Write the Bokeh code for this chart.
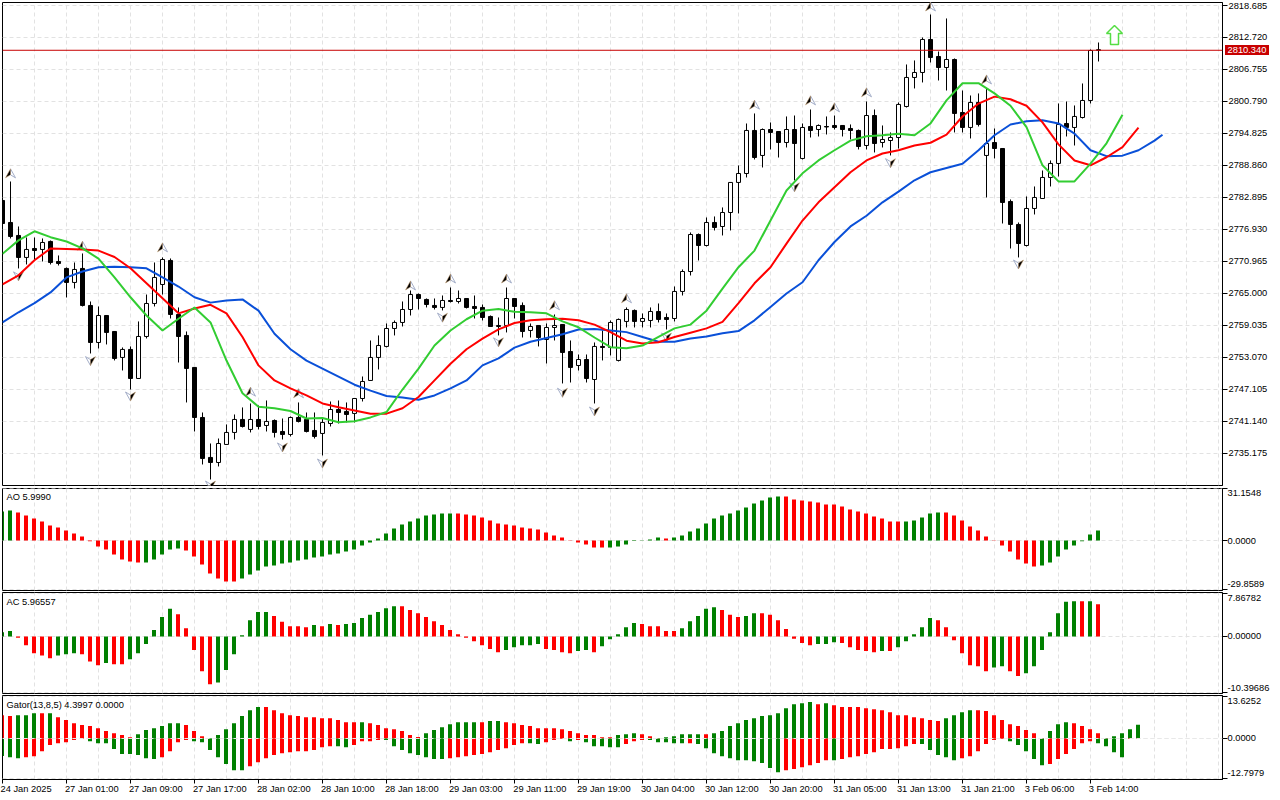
from bokeh.plotting import figure
from bokeh.layouts import column
from bokeh.models import FixedTicker, Grid, LinearAxis, Range1d, Span, PrintfTickFormatter, Label, Div
from bokeh.embed import file_html
from bokeh.resources import INLINE

# ---------- price data (bar index = position in list) ----------
opens = [2782.34,2778.24,2775.82,2771.72,2773.39,2773.21,2774.70,2770.97,2769.67,2767.06,
2769.67,2762.77,2755.87,2760.90,2757.92,2753.08,2754.57,2749.16,2756.99,2763.14,
2766.68,2771.16,2761.09,2757.18,2751.22,2741.89,2734.44,2733.50,2736.86,2739.10,
2741.52,2739.66,2741.52,2740.40,2741.33,2739.28,2738.72,2741.89,2741.52,2739.47,
2738.91,2740.77,2743.38,2743.01,2742.64,2745.43,2748.79,2753.08,2755.13,2758.48,
2759.60,2762.02,2764.81,2763.89,2762.77,2762.40,2763.70,2763.51,2764.07,2762.58,
2762.40,2760.72,2758.85,2759.04,2764.07,2762.77,2758.11,2759.04,2756.43,2758.67,
2759.23,2754.19,2751.58,2752.70,2748.97,2755.13,2754.94,2752.52,2759.79,2761.84,
2759.79,2759.97,2761.65,2760.53,2760.34,2765.38,2769.10,2776.00,2773.95,2778.24,
2777.49,2780.10,2785.70,2787.37,2795.39,2790.73,2795.57,2795.20,2793.15,2795.57,
2790.17,2796.13,2795.57,2796.13,2796.32,2796.32,2795.76,2795.39,2792.59,2798.18,
2793.15,2793.52,2794.08,2799.86,2805.27,2806.20,2812.35,2809.18,2807.13,2808.62,
2798.74,2795.95,2800.61,2790.73,2793.15,2792.03,2782.15,2777.87,2773.95,2780.85,
2782.71,2786.63,2789.24,2796.69,2795.95,2797.81,2800.98,2810.43]
highs = [2782.70,2785.88,2777.49,2775.44,2775.44,2775.26,2774.88,2772.09,2769.85,2770.78,
2772.46,2763.51,2762.58,2760.90,2757.92,2754.94,2755.13,2759.79,2764.81,2770.78,
2771.72,2771.53,2762.40,2757.92,2751.22,2742.82,2737.04,2737.97,2740.59,2742.45,
2743.76,2744.50,2744.13,2745.06,2741.52,2741.70,2742.08,2744.69,2742.82,2742.82,
2741.89,2744.87,2745.06,2744.69,2745.43,2749.53,2756.24,2757.18,2759.41,2759.97,
2763.51,2765.56,2765.00,2764.07,2764.07,2764.63,2766.12,2765.56,2764.07,2764.63,
2762.95,2760.90,2760.53,2766.12,2764.07,2763.33,2759.41,2759.04,2759.41,2761.09,
2759.23,2756.24,2753.63,2753.63,2755.87,2758.11,2759.97,2760.34,2762.40,2762.02,
2761.28,2762.40,2763.14,2761.28,2766.31,2769.48,2776.38,2776.19,2779.17,2779.36,
2781.04,2785.70,2788.86,2796.69,2798.56,2795.76,2796.88,2795.20,2798.00,2798.18,
2796.69,2799.30,2796.51,2798.00,2798.18,2796.32,2796.51,2795.57,2800.79,2799.30,
2796.32,2795.02,2800.61,2807.69,2808.44,2812.72,2817.01,2810.11,2816.27,2808.81,
2802.84,2801.91,2802.29,2803.22,2795.76,2792.03,2782.53,2778.24,2783.09,2784.95,
2787.93,2789.80,2800.42,2800.79,2800.05,2804.15,2810.49,2811.79]
lows = [2777.68,2775.26,2769.67,2770.41,2771.16,2770.97,2770.41,2770.22,2764.26,2765.94,
2762.58,2753.82,2754.75,2755.50,2752.52,2750.65,2747.11,2749.16,2756.62,2762.58,
2764.81,2760.34,2752.14,2744.69,2739.28,2733.13,2730.33,2732.76,2736.86,2737.79,
2740.02,2739.10,2739.66,2739.28,2738.16,2737.79,2738.35,2740.96,2739.10,2737.97,
2734.81,2740.21,2740.77,2740.96,2740.96,2744.87,2748.79,2750.84,2754.94,2757.18,
2758.85,2760.90,2762.02,2762.40,2762.02,2761.84,2763.33,2763.14,2762.21,2760.34,
2759.97,2758.85,2757.18,2757.74,2760.34,2756.80,2756.80,2755.13,2751.96,2756.24,
2748.23,2748.41,2750.65,2748.41,2744.50,2752.52,2753.45,2752.33,2758.67,2758.67,
2758.67,2758.67,2759.60,2758.29,2759.79,2764.63,2768.36,2771.16,2773.77,2776.75,
2775.82,2776.75,2779.92,2786.63,2789.98,2788.49,2791.85,2790.35,2792.22,2786.07,
2789.98,2794.08,2794.27,2794.64,2795.57,2794.27,2793.71,2791.85,2791.85,2791.29,
2792.22,2790.73,2792.03,2799.67,2803.22,2804.34,2808.06,2804.71,2802.84,2795.02,
2795.02,2793.90,2796.13,2782.90,2790.17,2778.05,2773.39,2771.72,2773.77,2779.73,
2782.71,2784.95,2786.81,2794.27,2792.59,2797.62,2800.42,2808.25]
closes = [2778.05,2775.63,2771.72,2773.21,2773.02,2774.51,2770.78,2770.60,2767.06,2769.48,
2762.77,2755.87,2760.90,2757.74,2752.89,2754.57,2749.16,2756.99,2763.14,2767.99,
2771.34,2761.09,2756.99,2751.03,2741.89,2734.25,2733.50,2737.04,2739.10,2741.52,
2740.21,2741.52,2740.21,2741.15,2739.10,2738.72,2741.89,2741.15,2739.28,2738.35,
2740.96,2743.38,2742.82,2742.45,2745.43,2748.60,2753.08,2755.31,2758.48,2759.60,
2762.02,2764.81,2764.07,2762.95,2762.40,2763.70,2763.51,2764.07,2762.40,2762.21,
2760.53,2758.85,2759.04,2764.07,2762.58,2757.92,2758.85,2756.80,2758.67,2759.04,
2754.01,2751.22,2752.70,2749.16,2755.13,2754.94,2759.60,2760.16,2762.02,2759.79,
2760.34,2761.65,2760.16,2760.16,2765.38,2769.10,2776.00,2773.95,2778.24,2777.31,
2780.10,2785.70,2787.37,2795.39,2790.35,2795.57,2795.02,2793.15,2795.57,2792.96,
2795.95,2795.39,2796.32,2796.04,2795.95,2795.57,2795.39,2792.40,2798.18,2792.96,
2793.71,2794.08,2800.24,2805.27,2806.20,2812.35,2809.00,2807.13,2808.62,2798.56,
2795.95,2800.61,2796.51,2792.96,2792.03,2781.97,2777.87,2774.32,2780.85,2782.90,
2786.63,2789.24,2796.51,2795.95,2798.00,2800.98,2810.30,2810.34]

# Alligator lines, read every second bar
jaw_bars = [0,2,4,6,8,10,12,14,16,18,20,22,24,26,28,30,32,34,36,38,40,42,44,46,48,50,52,54,56,58,60,62,64,66,68,70,72,74,76,78,80,82,84,86,88,90,92,94,96,98,100,102,104,106,108,110,112,114,116,118,120,122,124,126,128,130,132,134,136,138,140,142,144,145]
jaw = [2759.6,2761.5,2763.2,2765.2,2768.0,2769.1,2769.9,2770.0,2769.9,2769.7,2768.0,2766.3,2764.3,2763.3,2763.7,2763.9,2761.8,2757.5,2754.6,2752.5,2751.0,2749.5,2748.0,2746.9,2745.9,2745.6,2745.2,2746.0,2747.3,2748.8,2751.6,2752.9,2754.9,2756.0,2756.7,2757.4,2758.3,2758.4,2758.1,2757.8,2756.9,2756.0,2756.0,2756.6,2757.0,2757.6,2758.0,2760.0,2762.5,2765.0,2767.1,2771.2,2774.6,2777.5,2779.5,2782.0,2784.0,2786.1,2787.6,2788.4,2789.2,2791.7,2794.5,2796.5,2797.1,2797.3,2796.7,2794.8,2791.7,2790.6,2790.7,2791.7,2793.5,2794.6]
teeth_bars = [0,2,4,6,8,10,12,14,16,18,20,22,24,26,28,30,32,34,36,38,40,42,44,46,48,50,52,54,56,58,60,62,64,66,68,70,72,74,76,78,80,82,84,86,88,90,92,94,96,98,100,102,104,106,108,110,112,114,116,118,120,122,124,126,128,130,132,134,136,138,140,142]
teeth = [2766.7,2768.4,2771.2,2773.4,2773.3,2773.2,2773.0,2771.8,2769.7,2766.9,2764.1,2761.3,2762.2,2762.9,2761.3,2756.9,2751.6,2748.8,2747.3,2746.0,2744.5,2743.8,2743.2,2742.6,2742.6,2743.6,2745.7,2748.8,2751.9,2754.6,2756.6,2758.3,2759.5,2760.0,2760.2,2760.3,2760.0,2759.2,2757.8,2756.2,2755.7,2755.9,2756.9,2757.7,2758.5,2759.7,2763.2,2766.9,2769.9,2774.3,2778.6,2782.0,2784.8,2787.6,2789.8,2791.1,2791.7,2792.6,2793.1,2794.6,2798.0,2800.4,2801.7,2801.2,2800.0,2796.9,2792.8,2789.8,2788.9,2790.4,2792.3,2795.9]
lips_bars = [0,2,4,6,8,10,12,14,16,18,20,22,24,26,28,30,32,34,36,38,40,42,44,46,48,50,52,54,56,58,60,62,64,66,68,70,72,74,76,78,80,82,84,86,88,90,92,94,96,98,100,102,104,106,108,110,112,114,116,118,120,122,124,126,128,130,132,134,136,138,140]
lips = [2772.4,2774.9,2776.6,2775.5,2774.7,2773.4,2771.5,2768.0,2764.3,2760.9,2758.1,2760.3,2762.4,2759.6,2752.5,2746.4,2743.9,2743.6,2743.1,2741.7,2741.8,2741.0,2741.2,2741.9,2742.9,2747.1,2751.0,2755.3,2758.1,2760.2,2761.8,2762.1,2761.6,2761.5,2761.3,2759.8,2758.7,2756.8,2755.0,2754.8,2755.3,2756.9,2758.5,2759.2,2761.8,2765.9,2769.9,2773.0,2778.6,2784.2,2787.4,2789.8,2791.7,2793.5,2794.3,2794.5,2794.8,2794.5,2796.7,2801.0,2804.2,2804.2,2802.3,2800.0,2796.0,2788.9,2785.9,2785.9,2789.2,2793.0,2798.3]

# Fractal markers
up_bars = [1,10,20,31,37,51,56,63,69,78,94,101,104,108,116,123]
up_prices = [2787.4,2773.9,2773.6,2746.7,2746.4,2766.5,2767.8,2767.8,2762.8,2764.1,2800.2,2801.0,2799.7,2802.5,2818.5,2804.9]
down_bars = [2,11,16,26,35,40,55,62,70,74,83,99,111,127]
down_prices = [2768.2,2752.4,2745.8,2729.2,2736.3,2733.3,2760.5,2755.9,2746.5,2743.0,2756.8,2784.8,2789.3,2770.4]
signal_bar = 139
signal_tip = 2814.96
signal_base = 2811.42
last_price = 2810.34
price_ticks = [2818.685,2812.720,2806.755,2800.790,2794.825,2788.860,2782.895,2776.930,2770.965,2765.000,2759.035,2753.070,2747.105,2741.140,2735.175]

# ---------- indicators ----------
ao = [17.5,18.1,16.9,15.1,13.3,11.5,9.05,7.85,6.04,4.2,2.4,-0.4,-3.6,-5.4,-8.5,-11.5,-12.7,-13.3,-13.3,-11.5,
-8.5,-5.4,-4.8,-6.0,-9.7,-14.5,-19.9,-22.9,-24.7,-24.7,-22.9,-20.5,-18.1,-15.7,-15.1,-13.9,-13.3,-12.1,-11.5,-10.3,
-9.7,-8.5,-7.8,-6.6,-5.4,-3.0,-1.2,1.2,4.2,7.2,9.7,11.5,13.3,15.1,15.7,16.3,16.3,16.3,15.7,15.1,
13.9,12.1,10.3,9.7,9.05,7.85,7.2,6.6,4.8,3.0,1.8,0.2,-1.2,-2.4,-4.2,-4.2,-4.2,-3.6,-2.4,-0.3,
-0.2,0.6,1.8,1.2,1.8,3.0,5.4,7.2,10.3,13.3,15.1,16.3,18.1,19.9,22.3,24.1,26.0,26.6,26.6,24.7,
24.1,23.5,22.9,21.7,21.7,20.5,18.7,17.5,16.3,14.5,13.3,11.5,11.5,11.5,12.1,13.9,16.3,16.9,16.9,15.1,
12.1,8.5,6.0,2.4,-0.2,-3.0,-6.6,-11.5,-13.9,-15.7,-15.1,-13.3,-9.7,-5.4,-3.0,-0.4,3.6,6.0]
ao_colors = ("GGRRRRRRRR" "RRRRRRRRGG" "GGGRRRRRRR" "GGGGGGGGGG" "GGGGGGGGGG" "GGGGGGGRRR"
             "RRRRRRRRRR" "RRRRRRGGGG" "GGGRGGGGGG" "GGGGGGGGRR" "RRRRRRRRRR" "RRRGGGGGRR"
             "RRRRRRRRRR" "GGGGGGGG")
ac = [0.8,1.0,-0.25,-1.6,-3.1,-3.5,-4.0,-3.5,-3.3,-3.1,-3.3,-4.6,-5.3,-4.9,-5.1,-5.1,-4.2,-3.1,-1.4,1.2,
3.6,5.1,4.1,1.5,-2.5,-6.4,-8.8,-8.5,-6.2,-3.3,0.25,3.0,4.5,4.5,3.8,2.7,1.9,1.9,1.7,2.1,
1.9,2.3,2.1,2.3,2.5,3.4,4.0,4.5,5.2,5.6,5.6,4.9,4.3,3.6,2.8,2.1,1.2,0.4,-0.25,-0.9,
-1.6,-2.3,-2.9,-2.5,-2.0,-1.6,-1.6,-1.4,-2.3,-2.5,-2.9,-3.1,-2.7,-2.5,-2.9,-1.8,-0.5,0.4,1.7,2.5,
2.3,1.9,1.9,1.0,1.0,1.5,2.8,3.8,5.1,5.4,4.9,4.0,3.6,3.8,4.3,4.3,4.0,3.0,1.4,-0.4,
-1.2,-1.6,-1.4,-1.4,-1.05,-1.2,-2.0,-2.5,-2.7,-2.9,-2.7,-2.7,-2.0,-0.9,0.4,1.7,3.4,3.0,1.7,-0.7,
-3.1,-5.3,-5.5,-6.4,-5.7,-5.5,-6.4,-7.3,-6.8,-5.5,-2.5,0.8,4.3,6.4,6.5,6.5,6.5,5.97]
ac_colors = ("GGRRRRRGGG" "RRRGRRGGGG" "GGRRRRRGGG" "GGGGRRRRRG" "RGRGGGGGGG" "RRRRRRRRRR"
             "RRRGGGGGRR" "RRGGRGGGGG" "RRRRRGGGGG" "RRRGGRRRRR" "RRGGGRRRRR" "GRGGGGGRRR"
             "RRRRGGRRGG" "GGGGGRGR")
gator_up = [7.5,7.2,7.5,7.5,8.1,8.1,8.1,6.8,5.9,4.9,4.3,4.0,3.3,2.4,1.7,1.1,0.4,1.4,2.7,3.3,
4.0,4.9,4.9,4.3,2.4,0.7,0.1,1.1,3.0,4.9,7.2,9.1,10.1,10.1,9.1,8.1,7.5,7.2,6.8,6.8,
6.5,6.5,5.9,5.2,5.2,5.2,4.9,4.3,3.3,3.0,2.4,1.1,0.5,1.7,2.7,3.6,4.6,5.2,5.2,5.2,
5.2,5.6,5.6,5.2,4.9,4.3,4.0,3.3,3.3,3.3,3.0,2.4,1.7,1.1,1.1,0.4,0.4,1.1,1.4,1.7,
1.4,0.7,0.1,0.4,0.7,1.4,1.4,1.4,1.4,1.7,2.4,4.0,4.9,5.9,6.5,7.2,7.5,8.1,9.7,11.0,
11.3,11.7,11.0,11.3,10.7,10.1,10.1,10.1,9.7,9.4,9.1,8.4,7.5,7.5,6.8,6.5,5.9,5.6,6.5,7.5,
8.4,9.1,9.1,8.8,7.5,5.9,4.6,4.0,2.7,1.7,0.1,2.4,4.6,5.2,4.9,4.0,3.0,1.7,0.1,0.7,
1.7,3.0,4.4]
gator_down = [-5.6,-6.0,-6.3,-6.0,-5.7,-4.1,-2.1,-1.5,-1.2,-0.5,-0.2,-0.9,-1.5,-1.5,-3.4,-5.0,-5.0,-5.3,-6.3,-6.6,
-6.0,-4.1,-1.2,-0.5,-0.9,-1.2,-3.7,-6.0,-8.2,-10.2,-10.2,-8.9,-7.6,-6.3,-5.3,-4.7,-4.4,-4.1,-4.1,-3.7,
-2.8,-2.5,-2.5,-2.8,-2.1,-0.9,-0.9,-0.5,-0.5,-2.5,-3.7,-4.7,-5.3,-6.0,-6.6,-6.6,-6.3,-6.0,-5.7,-5.3,
-5.0,-4.4,-3.7,-3.1,-2.1,-1.5,-1.5,-1.8,-1.2,-0.5,-0.2,-0.9,-0.5,-1.2,-2.5,-2.5,-2.8,-2.8,-1.8,-0.9,
-0.5,-0.5,-1.2,-1.2,-1.5,-1.5,-1.5,-1.8,-3.1,-4.7,-5.7,-6.3,-7.0,-7.0,-7.3,-7.9,-9.5,-10.8,-10.2,-9.8,
-9.2,-8.6,-7.9,-7.0,-7.0,-6.6,-6.0,-5.7,-5.0,-4.4,-3.4,-3.4,-3.1,-2.5,-1.8,-1.8,-3.7,-5.3,-6.0,-7.0,
-6.3,-5.7,-4.1,-1.8,-0.5,-0.2,-0.9,-2.1,-4.1,-6.6,-8.6,-8.2,-6.6,-5.0,-3.4,-1.5,-0.9,-1.5,-2.5,-4.4,
-6.0,-0.2,-0.2]
gator_up_colors = ("RRGGGRGRRR" "RRRRRRRGGG" "GGGRRRGGGG" "GGGRRRRRRR" "RRRRRGRRRR" "RRRGGGGGGG"
                   "RGGRRRRRRR" "RRRRRRRGGG" "RRRGGGGGRG" "GGGGGGGGGG" "GGRGRRRRRR" "RRRRRRRRGG"
                   "GGRRRRRRRR" "RGGGRRRRRG" "GGG")
gator_down_colors = ("GGGRRRRRRR" "RGGGGGGGGG" "RRRRGGGGGG" "GRRRRRRRRR" "RRGGRRRRGG" "GGGGGGRRRR"
                     "RRRRRRGGRR" "RGRGGGGGRR" "RGGGGGRGGG" "GGGGGGGGRR" "RRRRGRRRRR" "RRRRRGGGGG"
                     "RRRRRRGGGG" "GRRRRRRGGG" "GRR")
x_label_bars = [0,8,16,24,32,40,48,56,64,72,80,88,96,104,112,120,128,136]
x_labels = ["24 Jan 2025","27 Jan 01:00","27 Jan 09:00","27 Jan 17:00","28 Jan 02:00","28 Jan 10:00",
            "28 Jan 18:00","29 Jan 03:00","29 Jan 11:00","29 Jan 19:00","30 Jan 04:00","30 Jan 12:00",
            "30 Jan 20:00","31 Jan 05:00","31 Jan 13:00","31 Jan 21:00","3 Feb 06:00","3 Feb 14:00"]

# ---------- styling ----------
FONT = "Liberation Sans"
FS = "9.3px"
GRID = "#e2e2e2"
RED, GREEN = "#ff0000", "#008000"
X0, X1 = 0.0, 152.5
PX_X, PX_Y = 1 / 8, 0.186406
grid_bars = list(range(0, 153, 4))
cmap = {"G": GREEN, "R": RED}


def panel(height, ystart, yend, top, bottom, yticks):
    p = figure(width=1280, height=height, output_backend="svg", toolbar_location=None,
               x_range=Range1d(X0, X1), y_range=Range1d(ystart, yend),
               x_axis_type=None, y_axis_type=None,
               min_border_left=2, min_border_right=58, min_border_top=top, min_border_bottom=bottom)
    p.outline_line_color = "black"
    p.outline_line_width = 1
    p.background_fill_color = "white"
    p.border_fill_color = "white"
    ax = LinearAxis(ticker=FixedTicker(ticks=yticks), major_tick_out=5, major_tick_in=0, minor_tick_line_color=None,
                    major_tick_line_color="black", axis_line_color="black",
                    major_label_text_font=FONT, major_label_text_font_size=FS, major_label_text_color="black",
                    major_label_standoff=1)
    p.add_layout(ax, "right")
    p.add_layout(Grid(dimension=0, ticker=FixedTicker(ticks=grid_bars), grid_line_color=GRID, grid_line_dash="4 3"))
    p.add_layout(Grid(dimension=1, ticker=FixedTicker(ticks=yticks), grid_line_color=GRID, grid_line_dash="4 3"))
    return p, ax


def side_labels(p, ax, ticks, texts, offsets, frame_h):
    ax.major_label_overrides = {t: "" for t in ticks}
    unit = (p.y_range.end - p.y_range.start) / frame_h
    pos = [t + o * unit for t, o in zip(ticks, offsets)]
    lab = LinearAxis(ticker=FixedTicker(ticks=pos), major_tick_out=0, major_tick_in=0, minor_tick_line_color=None,
                     major_tick_line_color=None, axis_line_color=None, major_label_standoff=0,
                     major_label_text_font=FONT, major_label_text_font_size=FS, major_label_text_color="black",
                     major_label_overrides=dict(zip(pos, texts)))
    p.add_layout(lab, "right")


def title(p, text, offset):
    p.add_layout(Label(x=X0, y=p.y_range.end, x_offset=4, y_offset=offset, text=text, text_font=FONT,
                       text_font_size=FS, text_baseline="middle", text_color="black"))


def hist_x(n):
    # histogram bars sit half a pixel left of the candle wicks
    return [i - 0.5 * PX_X for i in range(n)]


# ---------- main panel ----------
p1, ax1 = panel(487, 2729.21, 2819.244, 2, 2, price_ticks)
ax1.formatter = PrintfTickFormatter(format="%.3f")
bars = list(range(len(opens)))
p1.segment(bars, lows, bars, highs, color="black", line_width=1)
body_colors = ["black" if c < o else "white" for o, c in zip(opens, closes)]
p1.vbar(bars, 0.5, opens, closes, fill_color=body_colors, line_color="black", line_width=1)

up_l = [[b - 5 * PX_X, b, b] for b in up_bars]
up_l_y = [[v - 4.5 * PX_Y, v + 4.5 * PX_Y, v - 1.5 * PX_Y] for v in up_prices]
up_r = [[b + 5 * PX_X, b, b] for b in up_bars]
p1.patches(up_r, up_l_y, fill_color="white", line_color="#a4aec8", line_width=1)
p1.patches(up_l, up_l_y, fill_color="black", line_color="#c8a070", line_width=0.5)
dn_y = [[v + 4.5 * PX_Y, v - 4.5 * PX_Y, v + 1.5 * PX_Y] for v in down_prices]
dn_l = [[b - 5 * PX_X, b, b] for b in down_bars]
dn_r = [[b + 5 * PX_X, b, b] for b in down_bars]
p1.patches(dn_l, dn_y, fill_color="white", line_color="#a4aec8", line_width=1)
p1.patches(dn_r, dn_y, fill_color="black", line_color="#c8a070", line_width=0.5)

p1.line(jaw_bars, jaw, line_color="#0a50d8", line_width=2)
p1.line(teeth_bars, teeth, line_color="#ff0000", line_width=2)
p1.line(lips_bars, lips, line_color="#32cd32", line_width=2)
p1.add_layout(Span(location=last_price, dimension="width", line_color="#c80000", line_width=1))

head = signal_tip - 8 * PX_Y
p1.patch([signal_bar, signal_bar + 1, signal_bar + 0.5, signal_bar + 0.5, signal_bar - 0.5, signal_bar - 0.5, signal_bar - 1],
         [signal_tip, head, head, signal_base, signal_base, head, head],
         fill_color="white", line_color="#55dd44", line_width=1.5)

# price tag sitting on the scale
tag = Div(text=f"{last_price:.3f}", width=44, height=10,
          styles={"position": "absolute", "left": "1225px", "top": "45px", "z-index": "5",
                  "background": "#c80000", "color": "white", "font-family": FONT, "font-size": FS,
                  "line-height": "10px", "text-align": "center", "margin": "0", "padding": "0"})

# ---------- AO ----------
p2, ax2 = panel(104, -30.2, 31.41, 1, 1, [31.1548, 0.0, -29.8589])
p2.vbar(hist_x(len(ao)), 0.5, [0] * len(ao), ao, fill_color=[cmap[c] for c in ao_colors], line_color=None)
side_labels(p2, ax2, [31.1548, 0.0, -29.8589], ["31.1548", "0.0000", "-29.8589"], [-4, 0, 5.5], 102)
title(p2, "AO 5.9990", -8)

# ---------- AC ----------
p3, ax3 = panel(103, -10.52, 8.118, 1, 1, [7.86782, 0.0, -10.39686])
p3.vbar(hist_x(len(ac)), 0.5, [0] * len(ac), ac, fill_color=[cmap[c] for c in ac_colors], line_color=None)
side_labels(p3, ax3, [7.86782, 0.0, -10.39686], ["7.86782", "0.00000", "-10.39686"], [-4, 0, 5], 101)
title(p3, "AC 5.96557", -9)

# ---------- Gator ----------
p4, ax4 = panel(106, -13.16, 13.80, 1, 21, [13.6252, 0.0, -12.7979])
gb = hist_x(len(gator_up))
p4.vbar(gb, 0.5, [0] * len(gb), gator_up, fill_color=[cmap[c] for c in gator_up_colors], line_color=None)
p4.vbar(gb, 0.5, [0] * len(gb), gator_down, fill_color=[cmap[c] for c in gator_down_colors], line_color=None)
p4.add_layout(Span(location=0, dimension="width", line_color="#e8e8e8", line_dash="4 3", line_width=1))
side_labels(p4, ax4, [13.6252, 0.0, -12.7979], ["13.6252", "0.0000", "-12.7979"], [-4.7, 0, 5], 84)
title(p4, "Gator(13,8,5) 4.3997 0.0000", -9)
xax = LinearAxis(ticker=FixedTicker(ticks=x_label_bars), major_tick_out=4, major_tick_in=0, minor_tick_line_color=None,
                 major_tick_line_color="black", axis_line_color="black", major_label_standoff=0,
                 major_label_overrides={b: "" for b in x_label_bars})
p4.add_layout(xax, "below")
# labels start at their tick: each one is centred half its own width to the right of it
x_label_pos = [b + (len(s) * 4.39 / 2 - 1.0) * PX_X for b, s in zip(x_label_bars, x_labels)]
xlab = LinearAxis(ticker=FixedTicker(ticks=x_label_pos), major_tick_out=0, major_tick_in=0, minor_tick_line_color=None,
                  major_tick_line_color=None, axis_line_color=None, major_label_standoff=0,
                  major_label_text_font=FONT, major_label_text_font_size=FS, major_label_text_color="black",
                  major_label_overrides=dict(zip(x_label_pos, x_labels)))
p4.add_layout(xlab, "below")

page = column(p1, p2, p3, p4, tag, spacing=0)
open("out.html", "w").write(file_html(page, INLINE))
